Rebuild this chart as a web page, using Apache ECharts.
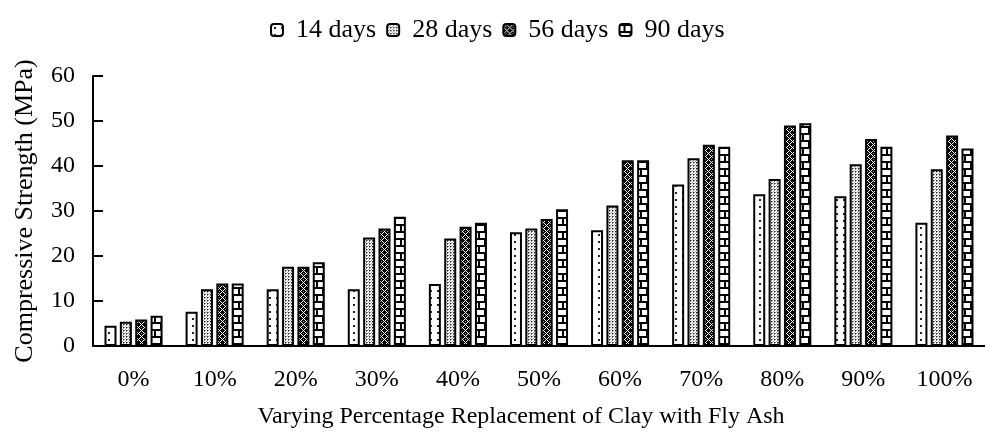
<!DOCTYPE html>
<html>
<head>
<meta charset="utf-8">
<script src="https://cdn.jsdelivr.net/npm/echarts@6/dist/echarts.min.js"></script>
<style>html,body{margin:0;padding:0;background:#fff}#c{width:985px;height:436px}</style>
</head>
<body>
<div id="c"></div>
<script>
var categories = ['0%','10%','20%','30%','40%','50%','60%','70%','80%','90%','100%'];
var seriesNames = ['14 days','28 days','56 days','90 days'];
var days14 = [4.5, 7.6, 12.6, 12.6, 13.8, 25.3, 25.7, 35.9, 33.7, 33.3, 27.4];
var days28 = [5.4, 12.6, 17.6, 24.1, 23.9, 26.1, 31.2, 41.7, 37.1, 40.4, 39.3];
var days56 = [5.9, 13.9, 17.6, 26.1, 26.5, 28.2, 41.3, 44.7, 49.0, 46.0, 46.8];
var days90 = [6.7, 13.9, 18.6, 28.7, 27.4, 30.4, 41.3, 44.3, 49.5, 44.3, 43.9];
var yTicks = [0, 10, 20, 30, 40, 50, 60];

function makePattern(w, h, draw) {
  var c = document.createElement('canvas');
  c.width = w; c.height = h;
  var g = c.getContext('2d');
  draw(g);
  return {image: c, repeat: 'repeat'};
}
function px(g, x, y, col) { g.fillStyle = col; g.fillRect(x, y, 1, 1); }

var pat14 = makePattern(7, 7, function (g) {
  g.fillStyle = '#fff'; g.fillRect(0, 0, 7, 7);
  g.fillStyle = '#222'; g.fillRect(3, 3, 2, 2);
});
var pat28 = makePattern(3, 3, function (g) {
  g.fillStyle = '#fff'; g.fillRect(0, 0, 3, 3);
  px(g, 0, 0, '#222'); px(g, 1, 0, '#888'); px(g, 0, 1, '#888');
  px(g, 2, 2, '#aaa');
});
var pat56 = makePattern(6, 6, function (g) {
  g.fillStyle = '#000'; g.fillRect(0, 0, 6, 6);
  var pts = [[3,0],[2,1],[4,1],[1,2],[5,2],[0,3],[1,4],[5,4],[2,5],[4,5]];
  pts.forEach(function (p) { px(g, p[0], p[1], '#fff'); });
  px(g, 3, 3, '#999');
});
var pat90 = makePattern(12, 14, function (g) {
  g.fillStyle = '#fff'; g.fillRect(0, 0, 12, 14);
  g.fillStyle = '#000';
  g.fillRect(0, 0, 12, 2);
  g.fillRect(0, 7, 12, 2);
  g.fillRect(4, 0, 2, 7);
  g.fillRect(10, 7, 2, 7);
});
var patterns = [pat14, pat28, pat56, pat90];
var dataSets = [days14, days28, days56, days90];

var font = '"Liberation Serif", "Times New Roman", serif';

var chart = echarts.init(document.getElementById('c'), null, {renderer: 'canvas'});
chart.setOption({
  animation: false,
  backgroundColor: '#fff',
  legend: {
    top: 12, left: 265,
    itemWidth: 12, itemHeight: 12, itemGap: 10,
    textStyle: {fontFamily: font, fontSize: 26, color: '#000', padding: [0, 0, 0, 8]},
    data: seriesNames
  },
  title: {
    text: 'Varying Percentage Replacement of Clay with Fly Ash',
    left: 516, top: 400, textAlign: 'center',
    textStyle: {fontFamily: font, fontSize: 24, fontWeight: 'normal', color: '#000'}
  },
  grid: {left: 93, top: 76, width: 903, height: 270, containLabel: false},
  xAxis: {
    type: 'category', data: categories,
    axisLine: {lineStyle: {color: '#000', width: 2}},
    axisTick: {inside: true, length: 8, lineStyle: {color: '#000', width: 2}},
    axisLabel: {fontFamily: font, fontSize: 24, color: '#000', margin: 22}
  },
  yAxis: {
    type: 'value', min: 0, max: 60, interval: 10,
    name: 'Compressive Strength (MPa)', nameLocation: 'middle', nameGap: 55,
    nameTextStyle: {fontFamily: font, fontSize: 26, color: '#000'},
    axisLine: {show: true, lineStyle: {color: '#000', width: 2}},
    axisTick: {show: true, inside: true, length: 10, lineStyle: {color: '#000', width: 2}},
    axisLabel: {fontFamily: font, fontSize: 24, color: '#000', margin: 18,
      formatter: function (v) { return yTicks.indexOf(v) >= 0 ? String(v) : ''; }},
    splitLine: {show: false}
  },
  series: seriesNames.map(function (n, i) {
    return {
      name: n, type: 'bar', data: dataSets[i],
      barWidth: 12, barGap: '28%',
      itemStyle: {color: patterns[i], borderColor: '#000', borderWidth: 2}
    };
  })
});
</script>
</body>
</html>
